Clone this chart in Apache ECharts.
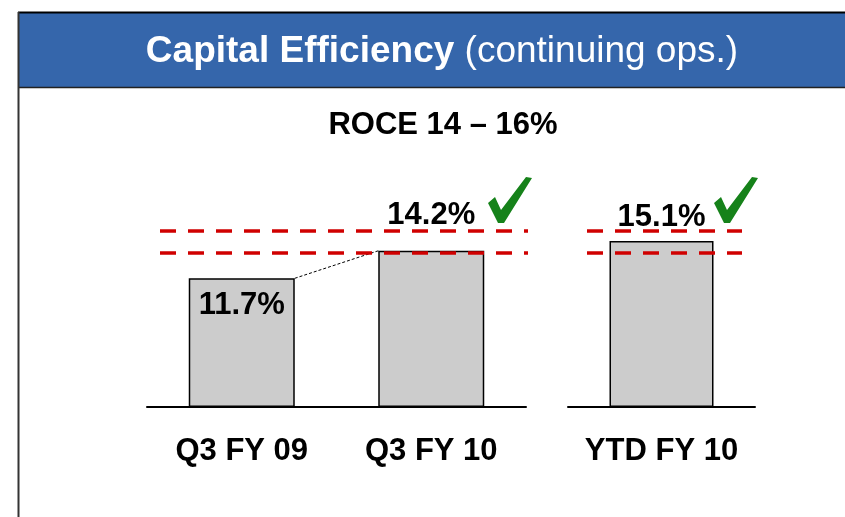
<!DOCTYPE html>
<html>
<head>
<meta charset="utf-8">
<script src="https://cdn.jsdelivr.net/npm/echarts@6/dist/echarts.min.js"></script>
<style>
  html, body { margin: 0; padding: 0; background: #fff; }
  #main { width: 845px; height: 517px; }
</style>
</head>
<body>
<div id="main"></div>
<script>
// data
var categoriesLeft = ['Q3 FY 09', 'Q3 FY 10'];
var roceLeft = [11.7, 14.2];
var categoriesRight = ['YTD FY 10'];
var roceRight = [15.1];
var targetRange = [14, 16]; // ROCE target band

var font = '"Liberation Sans", Arial, sans-serif';
var barFill = '#cccccc';
var red = '#d00000';
var green = '#16821a';

var chart = echarts.init(document.getElementById('main'));

function bandLines(x1, x2) {
    return targetRange.map(function (v) {
        return [{ yAxis: v, x: x1 }, { yAxis: v, x: x2 }];
    });
}

var markLineStyle = {
    silent: true,
    symbol: ['none', 'none'],
    label: { show: false },
    lineStyle: { color: red, width: 3.5, type: [16, 12] }
};

var valueLabel = {
    show: true,
    formatter: function (p) { return p.value.toFixed(1) + '%'; },
    color: '#000',
    fontFamily: font,
    fontWeight: 'bold',
    fontSize: 31
};

// label placement differs per bar in the original slide
var labelPos = [
    { position: 'insideTop', distance: 12 },
    { position: 'top', distance: 20 }
];

function check(dx) {
    var pts = [[488, 203], [495, 197], [501, 210], [526, 177], [532, 178], [504, 223], [498, 223]];
    return {
        type: 'polygon',
        shape: { points: pts.map(function (p) { return [p[0] + dx, p[1]]; }) },
        style: { fill: green },
        silent: true
    };
}

var catLabel = { color: '#000', fontFamily: font, fontWeight: 'bold', fontSize: 31, margin: 29 };

var option = {
    animation: false,
    grid: [
        { left: 147, width: 379, top: 187, height: 220 },
        { left: 568, width: 187, top: 187, height: 220 }
    ],
    xAxis: [{
        gridIndex: 0,
        type: 'category',
        data: categoriesLeft,
        axisLine: { lineStyle: { color: '#000', width: 2 } },
        axisTick: { show: false },
        axisLabel: catLabel
    }, {
        gridIndex: 1,
        type: 'category',
        data: categoriesRight,
        axisLine: { lineStyle: { color: '#000', width: 2 } },
        axisTick: { show: false },
        axisLabel: catLabel
    }],
    yAxis: [
        { gridIndex: 0, type: 'value', min: 0, max: 20, show: false },
        { gridIndex: 1, type: 'value', min: 0, max: 20, show: false }
    ],
    graphic: [
        { type: 'rect', shape: { x: 18, y: 12, width: 827, height: 76 }, style: { fill: '#3566ab' }, silent: true },
        { type: 'line', shape: { x1: 18, y1: 12.5, x2: 845, y2: 12.5 }, style: { stroke: '#000', lineWidth: 2 }, silent: true },
        { type: 'line', shape: { x1: 18, y1: 87.5, x2: 845, y2: 87.5 }, style: { stroke: '#222', lineWidth: 1.5 }, silent: true },
        { type: 'line', shape: { x1: 18.5, y1: 12, x2: 18.5, y2: 517 }, style: { stroke: '#333', lineWidth: 2 }, silent: true },
        {
            type: 'text', x: 442, y: 52, silent: true,
            style: {
                text: '{b|Capital Efficiency\u00a0}{n|(continuing ops.)}',
                align: 'center', verticalAlign: 'middle',
                rich: {
                    b: { fill: '#fff', fontFamily: font, fontWeight: 'bold', fontSize: 37 },
                    n: { fill: '#fff', fontFamily: font, fontSize: 37 }
                }
            }
        },
        {
            type: 'text', x: 443, y: 125, silent: true,
            style: {
                text: 'ROCE 14 \u2013 16%', fill: '#000', font: 'bold 31px ' + font,
                align: 'center', verticalAlign: 'middle'
            }
        },
        check(0),
        check(226)
    ],
    series: [{
        type: 'bar',
        xAxisIndex: 0,
        yAxisIndex: 0,
        barWidth: 106,
        itemStyle: { color: barFill, borderColor: '#000', borderWidth: 1.5 },
        label: valueLabel,
        data: roceLeft.map(function (v, i) {
            return { value: v, label: labelPos[i] };
        }),
        markLine: Object.assign({ data: bandLines(160, 528) }, markLineStyle)
    }, {
        type: 'bar',
        xAxisIndex: 1,
        yAxisIndex: 1,
        barWidth: 104,
        itemStyle: { color: barFill, borderColor: '#000', borderWidth: 1.5 },
        label: Object.assign({}, valueLabel, { position: 'top', distance: 8 }),
        data: roceRight,
        markLine: Object.assign({ data: bandLines(587, 742) }, markLineStyle)
    }, {
        // thin dashed connector between the two quarterly bars
        type: 'custom',
        xAxisIndex: 0,
        yAxisIndex: 0,
        silent: true,
        dimensions: ['x1', 'y1', 'x2', 'y2'],
        encode: { x: [0, 2], y: [1, 3] },
        data: [[0, roceLeft[0], 1, roceLeft[1]]],
        renderItem: function (params, api) {
            var a = api.coord([api.value(0), api.value(1)]);
            var b = api.coord([api.value(2), api.value(3)]);
            var half = 53;
            return {
                type: 'line',
                shape: { x1: a[0] + half, y1: a[1], x2: b[0] - half, y2: b[1] },
                style: { stroke: '#000', lineWidth: 1, lineDash: [3, 2] }
            };
        }
    }]
};

chart.setOption(option);
</script>
</body>
</html>
